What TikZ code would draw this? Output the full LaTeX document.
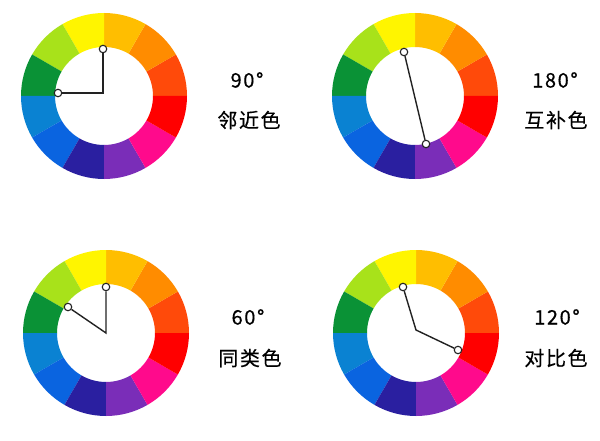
\documentclass[tikz,border=0pt]{standalone}
\usepackage{fontspec}
\newfontfamily\cjk[LetterSpace=8,FakeBold=0.4]{Noto Sans CJK SC}
\definecolor{wYellow}{HTML}{FFF500}
\definecolor{wAmber}{HTML}{FFBE00}
\definecolor{wOrange}{HTML}{FF8C00}
\definecolor{wVermil}{HTML}{FF4A0A}
\definecolor{wRed}{HTML}{FF0000}
\definecolor{wPink}{HTML}{FF0A8C}
\definecolor{wPurple}{HTML}{7A2DB8}
\definecolor{wIndigo}{HTML}{2A1FA0}
\definecolor{wBlue}{HTML}{0A64E0}
\definecolor{wSky}{HTML}{0A82D2}
\definecolor{wGreen}{HTML}{0A9236}
\definecolor{wLime}{HTML}{A8E21A}
\definecolor{hand}{HTML}{222222}
\begin{document}
\begin{tikzpicture}[x=1pt,y=1pt,
  dot/.style={circle, fill=white, draw=hand, line width=1.1pt, minimum size=7.5pt, inner sep=0pt},
  arm/.style={draw=hand, line width=1.4pt},
  lbl/.style={font=\cjk\fontsize{20}{20}\selectfont, text=black}]
\useasboundingbox[fill=white] (0,0) rectangle (600,440);
% wheel 1
\begin{scope}[shift={(104,344)}]
\fill[wVermil] (0:83) arc (0:30:83) -- (30:49) arc (30:0:49) -- cycle;
\fill[wOrange] (30:83) arc (30:60:83) -- (60:49) arc (60:30:49) -- cycle;
\fill[wAmber] (60:83) arc (60:90:83) -- (90:49) arc (90:60:49) -- cycle;
\fill[wYellow] (90:83) arc (90:120:83) -- (120:49) arc (120:90:49) -- cycle;
\fill[wLime] (120:83) arc (120:150:83) -- (150:49) arc (150:120:49) -- cycle;
\fill[wGreen] (150:83) arc (150:180:83) -- (180:49) arc (180:150:49) -- cycle;
\fill[wSky] (180:83) arc (180:210:83) -- (210:49) arc (210:180:49) -- cycle;
\fill[wBlue] (210:83) arc (210:240:83) -- (240:49) arc (240:210:49) -- cycle;
\fill[wIndigo] (240:83) arc (240:270:83) -- (270:49) arc (270:240:49) -- cycle;
\fill[wPurple] (270:83) arc (270:300:83) -- (300:49) arc (300:270:49) -- cycle;
\fill[wPink] (300:83) arc (300:330:83) -- (330:49) arc (330:300:49) -- cycle;
\fill[wRed] (330:83) arc (330:360:83) -- (360:49) arc (360:330:49) -- cycle;
\end{scope}
% wheel 2
\begin{scope}[shift={(415,344)}]
\fill[wVermil] (0:83) arc (0:30:83) -- (30:49) arc (30:0:49) -- cycle;
\fill[wOrange] (30:83) arc (30:60:83) -- (60:49) arc (60:30:49) -- cycle;
\fill[wAmber] (60:83) arc (60:90:83) -- (90:49) arc (90:60:49) -- cycle;
\fill[wYellow] (90:83) arc (90:120:83) -- (120:49) arc (120:90:49) -- cycle;
\fill[wLime] (120:83) arc (120:150:83) -- (150:49) arc (150:120:49) -- cycle;
\fill[wGreen] (150:83) arc (150:180:83) -- (180:49) arc (180:150:49) -- cycle;
\fill[wSky] (180:83) arc (180:210:83) -- (210:49) arc (210:180:49) -- cycle;
\fill[wBlue] (210:83) arc (210:240:83) -- (240:49) arc (240:210:49) -- cycle;
\fill[wIndigo] (240:83) arc (240:270:83) -- (270:49) arc (270:240:49) -- cycle;
\fill[wPurple] (270:83) arc (270:300:83) -- (300:49) arc (300:270:49) -- cycle;
\fill[wPink] (300:83) arc (300:330:83) -- (330:49) arc (330:300:49) -- cycle;
\fill[wRed] (330:83) arc (330:360:83) -- (360:49) arc (360:330:49) -- cycle;
\end{scope}
% wheel 3
\begin{scope}[shift={(106,107)}]
\fill[wVermil] (0:83) arc (0:30:83) -- (30:49) arc (30:0:49) -- cycle;
\fill[wOrange] (30:83) arc (30:60:83) -- (60:49) arc (60:30:49) -- cycle;
\fill[wAmber] (60:83) arc (60:90:83) -- (90:49) arc (90:60:49) -- cycle;
\fill[wYellow] (90:83) arc (90:120:83) -- (120:49) arc (120:90:49) -- cycle;
\fill[wLime] (120:83) arc (120:150:83) -- (150:49) arc (150:120:49) -- cycle;
\fill[wGreen] (150:83) arc (150:180:83) -- (180:49) arc (180:150:49) -- cycle;
\fill[wSky] (180:83) arc (180:210:83) -- (210:49) arc (210:180:49) -- cycle;
\fill[wBlue] (210:83) arc (210:240:83) -- (240:49) arc (240:210:49) -- cycle;
\fill[wIndigo] (240:83) arc (240:270:83) -- (270:49) arc (270:240:49) -- cycle;
\fill[wPurple] (270:83) arc (270:300:83) -- (300:49) arc (300:270:49) -- cycle;
\fill[wPink] (300:83) arc (300:330:83) -- (330:49) arc (330:300:49) -- cycle;
\fill[wRed] (330:83) arc (330:360:83) -- (360:49) arc (360:330:49) -- cycle;
\end{scope}
% wheel 4
\begin{scope}[shift={(416,107)}]
\fill[wVermil] (0:83) arc (0:30:83) -- (30:49) arc (30:0:49) -- cycle;
\fill[wOrange] (30:83) arc (30:60:83) -- (60:49) arc (60:30:49) -- cycle;
\fill[wAmber] (60:83) arc (60:90:83) -- (90:49) arc (90:60:49) -- cycle;
\fill[wYellow] (90:83) arc (90:120:83) -- (120:49) arc (120:90:49) -- cycle;
\fill[wLime] (120:83) arc (120:150:83) -- (150:49) arc (150:120:49) -- cycle;
\fill[wGreen] (150:83) arc (150:180:83) -- (180:49) arc (180:150:49) -- cycle;
\fill[wSky] (180:83) arc (180:210:83) -- (210:49) arc (210:180:49) -- cycle;
\fill[wBlue] (210:83) arc (210:240:83) -- (240:49) arc (240:210:49) -- cycle;
\fill[wIndigo] (240:83) arc (240:270:83) -- (270:49) arc (270:240:49) -- cycle;
\fill[wPurple] (270:83) arc (270:300:83) -- (300:49) arc (300:270:49) -- cycle;
\fill[wPink] (300:83) arc (300:330:83) -- (330:49) arc (330:300:49) -- cycle;
\fill[wRed] (330:83) arc (330:360:83) -- (360:49) arc (360:330:49) -- cycle;
\end{scope}
% hands
\coordinate (hub1) at (103,347);
\node [dot] (adj1) at (103,391) {};
\node [dot] (adj2) at (58,347) {};
\draw [arm] (adj1) -- (hub1) -- (adj2);
\coordinate (hub2) at (415,342);
\node [dot] (comp1) at (404,388) {};
\node [dot] (comp2) at (426,296) {};
\draw [arm] (comp1) -- (comp2);
\coordinate (hub3) at (106,107);
\node [dot] (sim1) at (106,153) {};
\node [dot] (sim2) at (68,133) {};
\draw [arm] (sim1) -- (hub3) -- (sim2);
\coordinate (hub4) at (416,110);
\node [dot] (con1) at (403,153) {};
\node [dot] (con2) at (458,90) {};
\draw [arm] (con1) -- (hub4) -- (con2);
% labels
\node [lbl] (deg1) at (247,360) {90°};
\node [lbl] (name1) at (249,320) {邻近色};
\node [lbl] (deg2) at (555,360) {180°};
\node [lbl] (name2) at (556,320) {互补色};
\node [lbl] (deg3) at (248,123) {60°};
\node [lbl] (name3) at (250,82) {同类色};
\node [lbl] (deg4) at (557,123) {120°};
\node [lbl] (name4) at (556,82) {对比色};
\end{tikzpicture}
\end{document}
